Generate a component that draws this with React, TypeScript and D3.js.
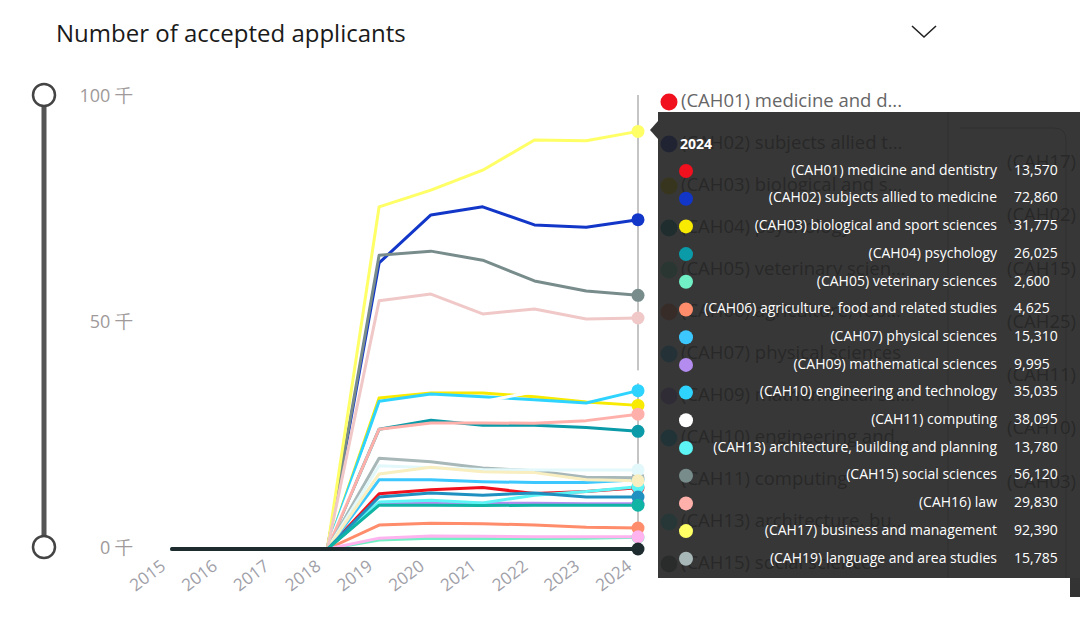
import { useMemo } from "react";
import * as d3 from "d3";

const years = [2015, 2016, 2017, 2018, 2019, 2020, 2021, 2022, 2023, 2024];

const seriesCodes = [
  "CAH01", "CAH02", "CAH03", "CAH04", "CAH05", "CAH06", "CAH07", "CAH09",
  "CAH10", "CAH11", "CAH13", "CAH15", "CAH16", "CAH17", "CAH19", "CAH20",
  "CAH22", "CAH23", "CAH24", "CAH25", "CAH26", "Blank",
];

const seriesNames = [
  "medicine and dentistry",
  "subjects allied to medicine",
  "biological and sport sciences",
  "psychology",
  "veterinary sciences",
  "agriculture, food and related studies",
  "physical sciences",
  "mathematical sciences",
  "engineering and technology",
  "computing",
  "architecture, building and planning",
  "social sciences",
  "law",
  "business and management",
  "language and area studies",
  "historical, philosophical and religious studies",
  "education and teaching",
  "combined and general studies",
  "media, journalism and communications",
  "design, and creative and performing arts",
  "geography, earth and environmental studies",
  "(Blank)",
];

// legend labels as truncated by the visual
const legendLabels = [
  "(CAH01) medicine and d...",
  "(CAH02) subjects allied t...",
  "(CAH03) biological and s...",
  "(CAH04) psychology",
  "(CAH05) veterinary scien...",
  "(CAH06) agriculture, foo...",
  "(CAH07) physical sciences",
  "(CAH09) mathematical sci...",
  "(CAH10) engineering and...",
  "(CAH11) computing",
  "(CAH13) architecture, bu...",
  "(CAH15) social sciences",
];

const seriesColors = [
  "#f0101e", "#1236c8", "#f8ea00", "#0a9aa8", "#70f0c4", "#ff8c6a",
  "#3cc8ff", "#b48cf0", "#2ed4ff", "#ffffff", "#5cf4f4", "#788c8c",
  "#ffb0aa", "#ffff66", "#a8b8b8", "#e2f8fa", "#f8eec0", "#ffb4f0",
  "#2090c0", "#f0c8c8", "#10b4a4", "#1e2c30",
];

const cah01 = [0, 0, 0, 0, 12200, 13100, 13600, 12300, 12700, 13570];
const cah02 = [0, 0, 0, 0, 63300, 73900, 75700, 71700, 71200, 72860];
const cah03 = [0, 0, 0, 0, 33400, 34500, 34500, 33700, 32500, 31775];
const cah04 = [0, 0, 0, 0, 26500, 28500, 27400, 27400, 26900, 26025];
const cah05 = [0, 0, 0, 0, 2000, 2400, 2300, 2300, 2400, 2600];
const cah06 = [0, 0, 0, 0, 5300, 5700, 5600, 5300, 4800, 4625];
const cah07 = [0, 0, 0, 0, 15300, 15300, 14900, 14700, 14700, 15310];
const cah09 = [0, 0, 0, 0, 10000, 10300, 10100, 10100, 10000, 9995];
const cah10 = [0, 0, 0, 0, 32700, 34300, 33700, 33000, 32300, 35035];
const cah11 = [0, 0, 0, 0, 30000, 31500, 32600, 34800, 36500, 38095];
const cah13 = [0, 0, 0, 0, 10400, 10800, 10200, 11900, 12700, 13780];
const cah15 = [0, 0, 0, 0, 65000, 65900, 63900, 59300, 57100, 56120];
const cah16 = [0, 0, 0, 0, 26500, 27900, 27900, 27800, 28400, 29830];
const cah17 = [0, 0, 0, 0, 75700, 79400, 83800, 90500, 90300, 92390];
const cah19 = [0, 0, 0, 0, 20100, 19300, 17900, 17300, 15900, 15785];
const cah20 = [0, 0, 0, 0, 18400, 18000, 17600, 17500, 17500, 17500];
const cah22 = [0, 0, 0, 0, 16600, 18100, 17100, 16900, 15300, 15100];
const cah23 = [0, 0, 0, 0, 2400, 2900, 2800, 2700, 2700, 2700];
const cah24 = [0, 0, 0, 0, 11500, 12400, 11900, 12400, 11500, 11500];
const cah25 = [0, 0, 0, 0, 54900, 56400, 52000, 53100, 50900, 51100];
const cah26 = [0, 0, 0, 0, 9700, 9700, 9600, 9700, 9700, 9700];
const blank = [0, 0, 0, 0, 0, 0, 0, 0, 0, 0];

const seriesValues = [
  cah01, cah02, cah03, cah04, cah05, cah06, cah07, cah09, cah10, cah11, cah13,
  cah15, cah16, cah17, cah19, cah20, cah22, cah23, cah24, cah25, cah26, blank,
];

const yTicks = [0, 50000, 100000];
const tooltipRows = 15;
const FONT = "'Segoe UI', 'Open Sans', sans-serif";

export default function App() {
  const width = 1080;
  const height = 639;

  const x = useMemo(
    () => d3.scalePoint<number>().domain(years).range([172, 638]),
    [],
  );
  const y = useMemo(
    () => d3.scaleLinear().domain([0, 100000]).range([549, 97]),
    [],
  );

  const line = d3
    .line<number>()
    .x((_, i) => x(years[i]) ?? 0)
    .y((d) => y(d));

  const last = years.length - 1;
  const hoverX = x(years[last]) ?? 0;
  const fmt = d3.format(",");

  // the visual behind the tooltip lists the top categories by latest value
  const ranked = d3
    .range(seriesCodes.length)
    .sort((a, b) => seriesValues[b][last] - seriesValues[a][last])
    .slice(0, 7);

  const tipX = 658;
  const tipY = 112;
  const tipH = 466;
  const rowY = (i: number) => 171 + i * 27.7;

  return (
    <svg
      width={width}
      height={height}
      style={{ position: "absolute", left: 0, top: 0, background: "#fff" }}
      fontFamily={FONT}
    >
      {/* Title + chevron */}
      <text x={56} y={42} fontSize={24} fill="#1a1a1a">
        Number of accepted applicants
      </text>
      <polyline
        points="912,26 924,37 936,26"
        fill="none"
        stroke="#222"
        strokeWidth={1.6}
      />

      {/* Range slider */}
      <line x1={44} x2={44} y1={y(100000)} y2={y(0)} stroke="#555" strokeWidth={5} />
      {[100000, 0].map((v) => (
        <circle key={v} cx={44} cy={y(v) - 2} r={11} fill="#fff" stroke="#444" strokeWidth={2.5} />
      ))}

      {/* Y axis labels */}
      {yTicks.map((t) => (
        <text
          key={t}
          x={133}
          y={y(t)}
          fontSize={18}
          fill="#a09a9a"
          textAnchor="end"
          dominantBaseline="middle"
        >
          {`${t / 1000} 千`}
        </text>
      ))}

      {/* X axis labels */}
      {years.map((yr) => (
        <text
          key={yr}
          transform={`translate(${(x(yr) ?? 0) - 14},${557}) rotate(-37)`}
          fontSize={17}
          fill="#a0a0a8"
          textAnchor="end"
          dominantBaseline="hanging"
        >
          {yr}
        </text>
      ))}

      {/* Hover line */}
      <line x1={hoverX} x2={hoverX} y1={95} y2={y(0)} stroke="#8a8a8a" strokeWidth={1} />

      {/* Series lines */}
      {seriesValues.map((vals, i) => (
        <path
          key={seriesCodes[i]}
          d={line(vals) ?? ""}
          fill="none"
          stroke={seriesColors[i]}
          strokeWidth={i === seriesValues.length - 1 ? 4 : 3}
          strokeLinejoin="round"
          strokeLinecap="round"
        />
      ))}

      {/* Hover markers */}
      {seriesValues.map((vals, i) => (
        <circle
          key={seriesCodes[i]}
          cx={hoverX}
          cy={y(vals[last])}
          r={6.5}
          fill={seriesColors[i]}
        />
      ))}

      {/* Legend (mostly hidden behind tooltip) */}
      {legendLabels.map((lbl, i) => (
        <g key={lbl} transform={`translate(0,${102 + i * 42})`}>
          <circle cx={669} cy={0} r={8.5} fill={seriesColors[i]} />
          <text x={681} y={0} fontSize={18.5} fill="#666" dominantBaseline="middle">
            {lbl}
          </text>
        </g>
      ))}

      {/* Another visual behind the tooltip */}
      <path
        d={`M948,${tipY} V${tipY + tipH} M1066,${tipY + tipH} V140 Q1066,128 1054,128 H960`}
        fill="none"
        stroke="#aaa"
        strokeWidth={1}
      />
      {ranked.map((idx, j) => (
        <text
          key={seriesCodes[idx]}
          x={1007}
          y={163 + j * 53.3}
          fontSize={18.5}
          fill="#666"
          dominantBaseline="middle"
        >
          {`(${seriesCodes[idx]})`}
        </text>
      ))}
      <rect x={1070} y={tipY + tipH} width={10} height={19} fill="#333" />

      {/* Tooltip */}
      <g>
        <path
          d={`M${tipX - 8},${130} L${tipX},${121} L${tipX},${139} Z`}
          fill="#212121"
          fillOpacity={0.9}
        />
        <rect x={tipX} y={tipY} width={width - tipX} height={tipH} fill="#212121" fillOpacity={0.9} />
        <text x={680} y={145} fontSize={14} fontWeight={700} fill="#fff" dominantBaseline="middle">
          {years[last]}
        </text>
        {d3.range(tooltipRows).map((i) => (
          <g key={seriesCodes[i]} transform={`translate(0,${rowY(i)})`}>
            <circle cx={686} cy={0} r={7} fill={seriesColors[i]} />
            <text x={997} y={0} fontSize={14} fill="#fff" textAnchor="end" dominantBaseline="middle">
              {`(${seriesCodes[i]}) ${seriesNames[i]}`}
            </text>
            <text x={1014} y={0} fontSize={14} fill="#fff" dominantBaseline="middle">
              {fmt(seriesValues[i][last])}
            </text>
          </g>
        ))}
      </g>
    </svg>
  );
}
